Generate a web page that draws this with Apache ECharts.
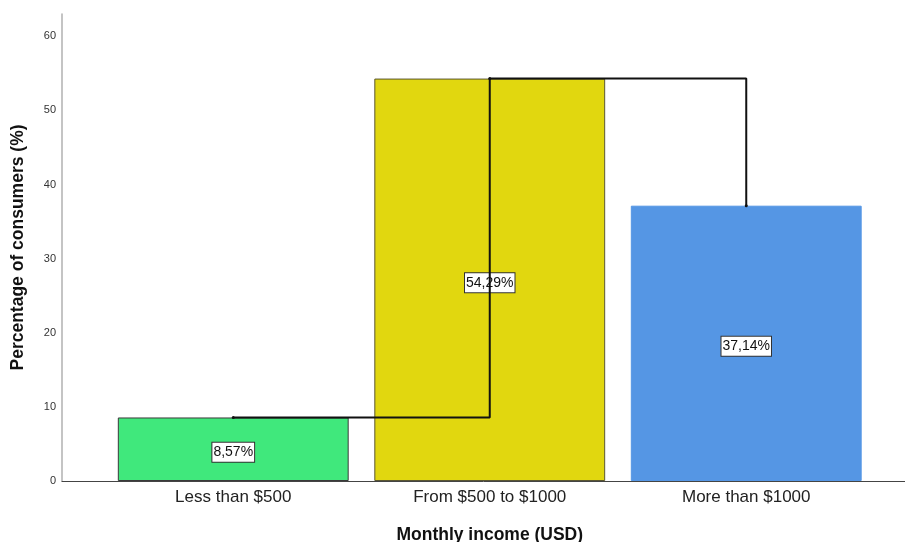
<!DOCTYPE html>
<html>
<head>
<meta charset="utf-8">
<script src="https://cdn.jsdelivr.net/npm/echarts@6/dist/echarts.min.js"></script>
<style>
html,body{margin:0;padding:0;background:#fff;}
#chart{width:905px;height:542px;}
</style>
</head>
<body>
<div id="chart"></div>
<script>
var categories = ['Less than $500', 'From $500 to $1000', 'More than $1000'];
var percentages = [8.57, 54.29, 37.14];
var barColors = ['#40e87c', '#e1d70f', '#5596e4'];
var barBorders = ['#3a3a3a', '#5a5630', '#5596e4'];
var yTicks = [0, 10, 20, 30, 40, 50, 60];

var FONT = 'Arial, "Liberation Sans", sans-serif';
var chart = echarts.init(document.getElementById('chart'));

function fmt(v) { return v.toFixed(2).replace('.', ',') + '%'; }

var option = {
  animation: false,
  backgroundColor: '#fff',
  textStyle: { fontFamily: FONT },
  grid: [
    { left: 105, right: 30.5, top: 14, bottom: 61, containLabel: false, outerBoundsMode: 'none' },
    { left: 62, right: 0, top: 14, bottom: 61, containLabel: false, outerBoundsMode: 'none' }
  ],
  xAxis: [
    {
      type: 'category', gridIndex: 0, data: categories,
      axisLine: { show: false }, axisTick: { show: false },
      axisLabel: { color: '#222', fontSize: 17, margin: 8, fontFamily: FONT },
      name: 'Monthly income (USD)', nameLocation: 'middle', nameGap: 45,
      nameTextStyle: { color: '#111', fontSize: 17.5, fontWeight: 'bold', fontFamily: FONT }
    },
    {
      type: 'value', gridIndex: 1, min: 0, max: 1,
      axisLine: { show: true, lineStyle: { color: '#444', width: 1 } },
      axisTick: { show: false }, axisLabel: { show: false }, splitLine: { show: false }
    }
  ],
  yAxis: [
    {
      type: 'value', gridIndex: 0, min: 0, max: 63, interval: 10, offset: 43,
      axisLine: { show: true, lineStyle: { color: '#b0b0b0', width: 1.5 } },
      axisTick: { show: false }, splitLine: { show: false },
      axisLabel: {
        color: '#333', fontSize: 11, margin: 6, fontFamily: FONT,
        showMaxLabel: false,
        formatter: function (v) { return yTicks.indexOf(v) >= 0 ? String(v) : ''; }
      },
      name: 'Percentage of consumers (%)', nameLocation: 'middle', nameGap: 35,
      nameTextStyle: { color: '#111', fontSize: 17.5, fontWeight: 'bold', fontFamily: FONT }
    },
    {
      type: 'value', gridIndex: 1, min: 0, max: 63, show: false
    }
  ],
  series: [
    {
      type: 'bar', xAxisIndex: 0, yAxisIndex: 0, z: 2,
      barCategoryGap: '10%',
      data: percentages.map(function (v, i) {
        return { value: v, itemStyle: { color: barColors[i], borderColor: barBorders[i], borderWidth: 1 } };
      }),
      label: {
        show: true, position: 'inside', offset: [0, 3], color: '#111', fontSize: 14, fontFamily: FONT,
        backgroundColor: '#fff', borderColor: '#333', borderWidth: 1, padding: [3, 1, 2, 1],
        formatter: function (p) { return fmt(p.value); }
      }
    },
    {
      type: 'line', xAxisIndex: 0, yAxisIndex: 0, z: 5, zlevel: 1,
      step: 'end',
      data: percentages,
      symbol: 'circle', symbolSize: 3,
      itemStyle: { color: '#111' },
      lineStyle: { color: '#111', width: 2 },
      label: { show: false }
    }
  ]
};
chart.setOption(option);
</script>
</body>
</html>
